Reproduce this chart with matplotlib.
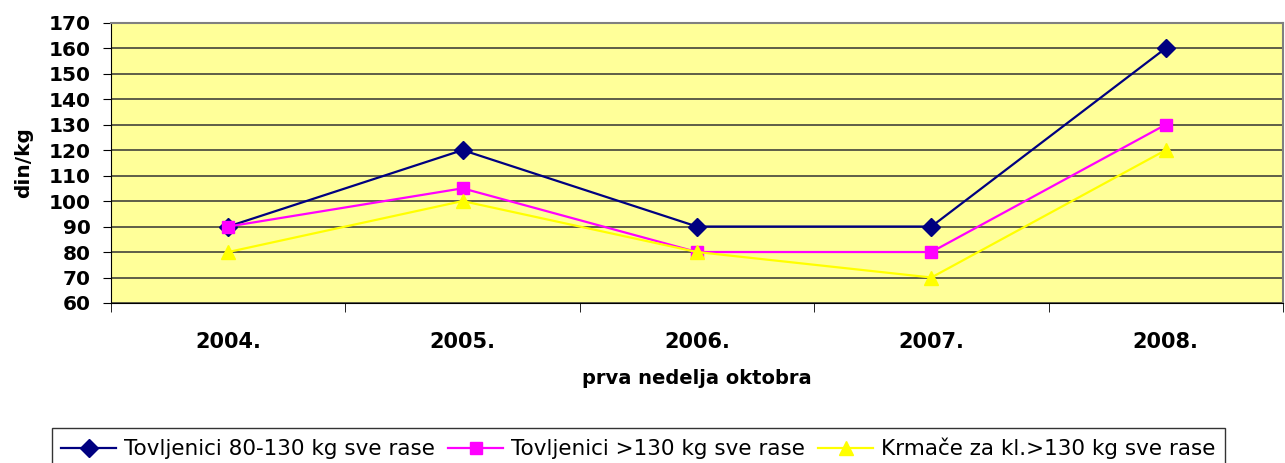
import numpy as np
import matplotlib.pyplot as plt

years = ['2004.', '2005.', '2006.', '2007.', '2008.']
tov_80_130 = [90, 120, 90, 90, 160]
tov_130 = [90, 105, 80, 80, 130]
krmace = [80, 100, 80, 70, 120]

labels = ['Tovljenici 80-130 kg sve rase',
          'Tovljenici >130 kg sve rase',
          'Krmače za kl.>130 kg sve rase']

plt.rcParams['font.family'] = ['DejaVu Sans']

fig = plt.figure(figsize=(12.85, 4.63), dpi=100)
ax = fig.add_axes([0.0864, 0.3456, 0.9120, 0.6054])
ax.set_facecolor('#FFFF99')

x = np.arange(len(years))
ax.plot(x, tov_80_130, color='#000080', marker='D', markersize=9, lw=1.6, label=labels[0])
ax.plot(x, tov_130, color='#FF00FF', marker='s', markersize=8.5, lw=1.6, label=labels[1])
ax.plot(x, krmace, color='#FFFF00', marker='^', markersize=9.5, lw=1.6, label=labels[2])

ax.set_xlim(-0.5, len(years) - 0.5)
ax.set_ylim(60, 170)
ax.set_yticks(np.arange(60, 171, 10))
ax.yaxis.grid(True, color='#333333', lw=1.1)
ax.set_axisbelow(True)

ax.set_xticks(x)
ax.set_xticklabels(years, fontsize=15, fontweight='bold')
ax.set_xticks(np.arange(-0.5, len(years), 1), minor=True)
ax.tick_params(axis='x', which='major', length=0, pad=21)
ax.tick_params(axis='x', which='minor', length=6.5, direction='out', color='black')
ax.tick_params(axis='y', length=5.8, direction='out', labelsize=14.5, pad=9)
for t in ax.get_yticklabels():
    t.set_fontweight('bold')

ax.spines['left'].set_color('black')
ax.spines['bottom'].set_color('black')
ax.spines['top'].set_color('#808080')
ax.spines['right'].set_color('#808080')
ax.spines['top'].set_linewidth(1.5)
ax.spines['right'].set_linewidth(1.5)

ax.set_ylabel('din/kg', fontsize=14.5, fontweight='bold', labelpad=11)
ax.set_xlabel('prva nedelja oktobra', fontsize=14, fontweight='bold', labelpad=12)

leg = fig.legend(loc='upper center', bbox_to_anchor=(638.5 / 1285, 1 - 428 / 463),
                 ncol=3, fontsize=15.5, frameon=True, fancybox=False,
                 edgecolor='black', handlelength=2.55, handletextpad=0.38,
                 columnspacing=0.6, borderpad=0.45, borderaxespad=0)
leg.get_frame().set_linewidth(1.0)

fig.savefig('out.png', dpi=100)
